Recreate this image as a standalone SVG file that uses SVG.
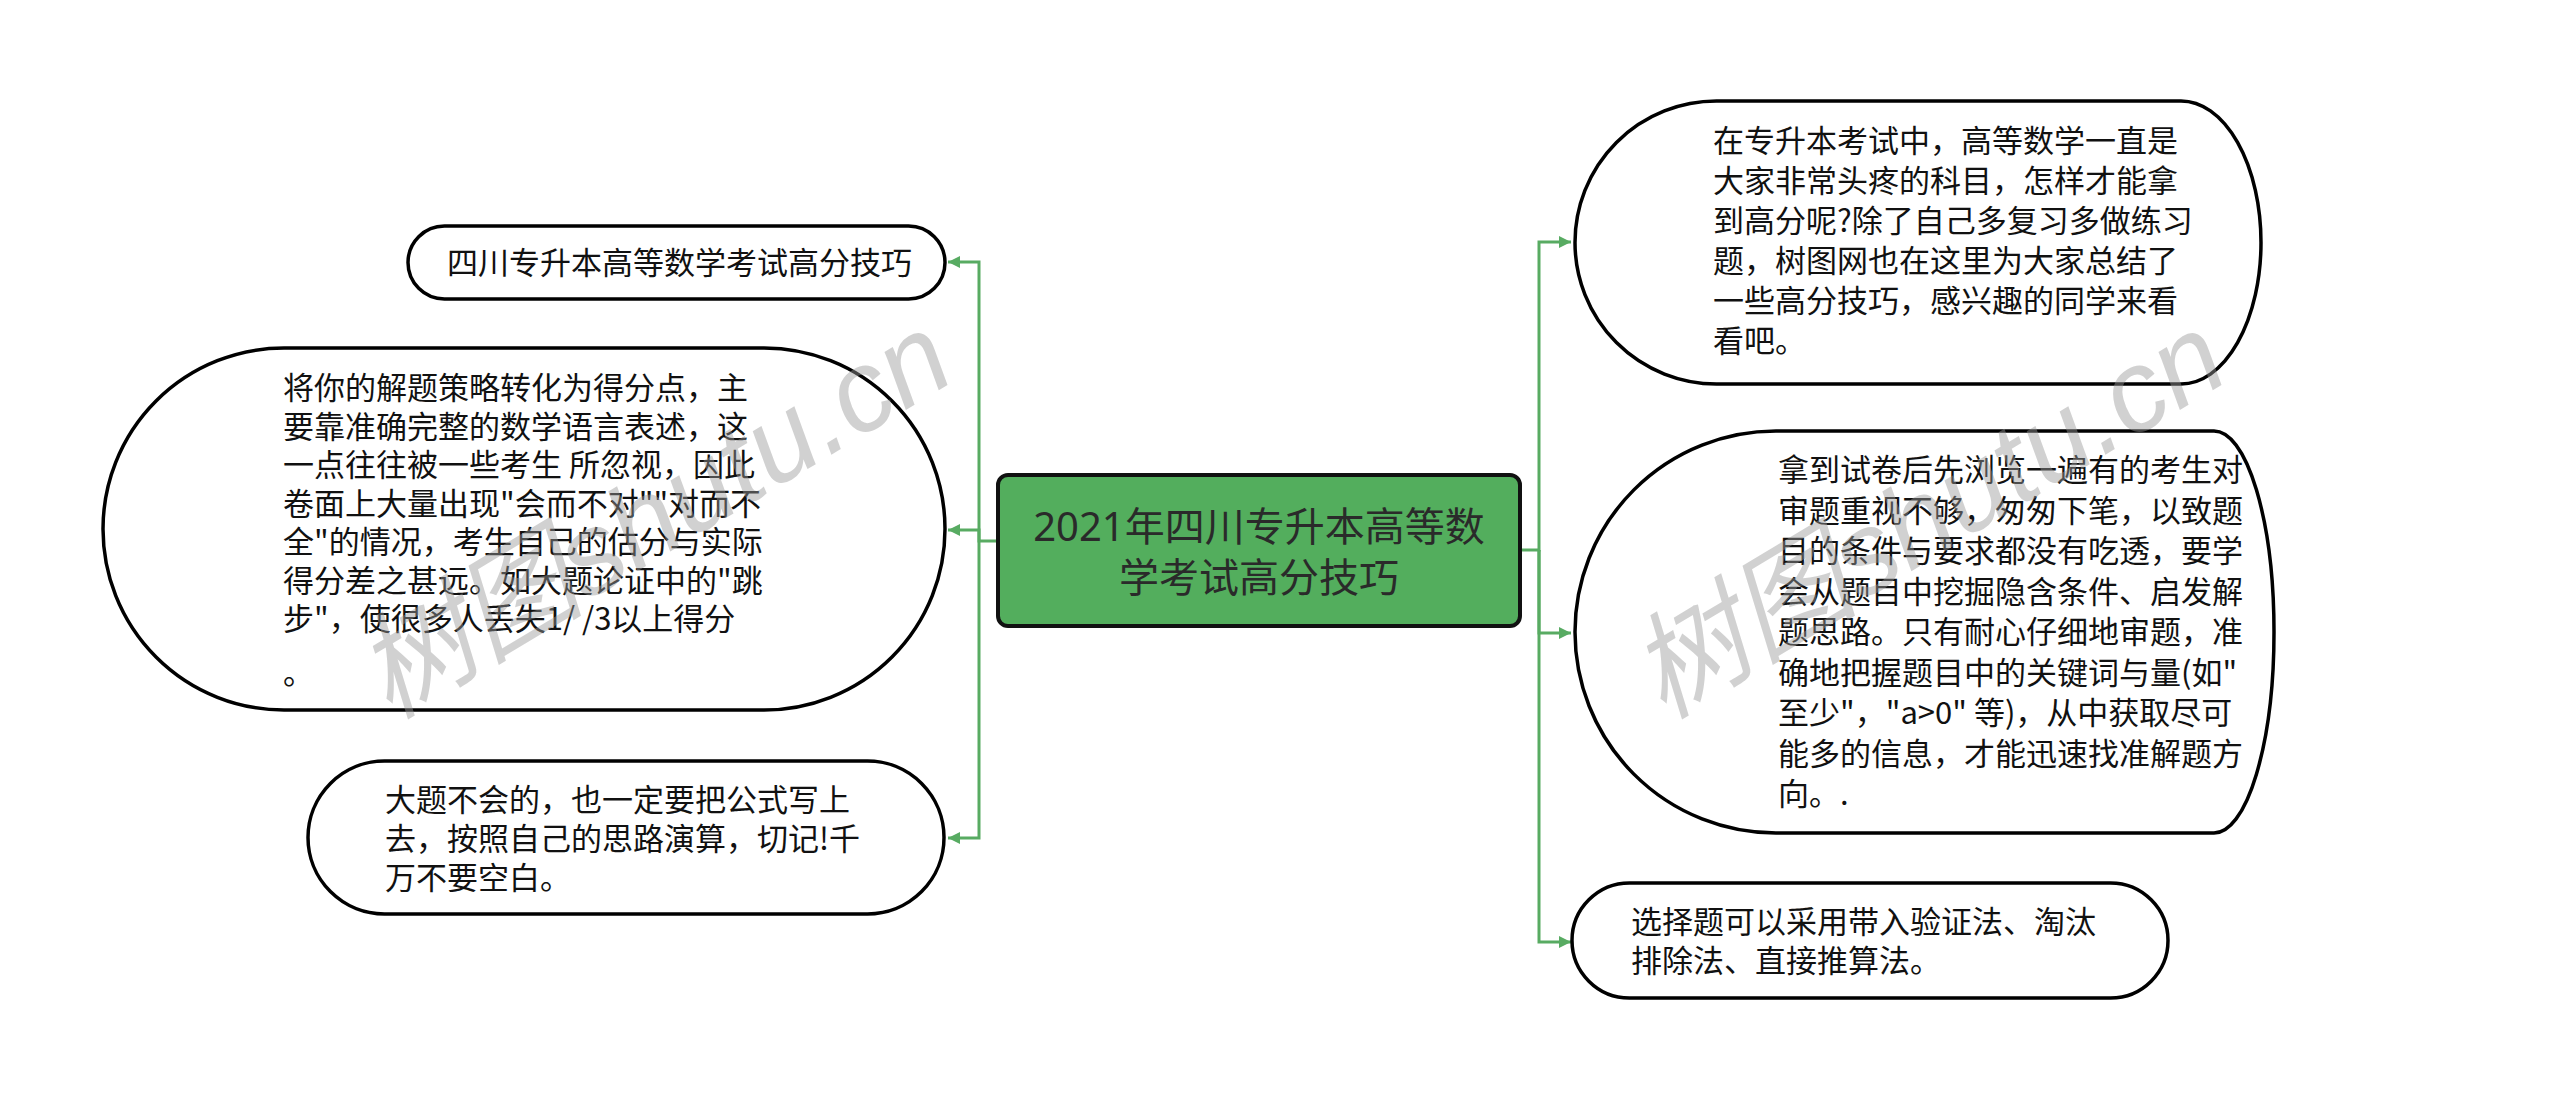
<svg xmlns="http://www.w3.org/2000/svg" width="2560" height="1101" viewBox="0 0 2560 1101">
<style>
.node{fill:#ffffff;stroke:#000000;stroke-width:3.5}
.root{fill:#53ae5d;stroke:#111111;stroke-width:4}
.t{font-family:"Noto Sans CJK SC","Noto Sans",sans-serif;font-size:31px;fill:#111111}
.rt{font-family:"Noto Sans","Noto Sans CJK SC",sans-serif;font-size:40px;fill:#2a2a2a;text-anchor:middle}
.edge{fill:none;stroke:#58ab62;stroke-width:3}
.wm{font-family:"Liberation Sans","Noto Sans CJK SC",sans-serif;font-style:italic;font-size:115px;fill:#999999;fill-opacity:0.45}
</style>
<defs>
<marker id="arr" markerUnits="userSpaceOnUse" markerWidth="14" markerHeight="14" refX="12" refY="6" orient="auto">
<path d="M0,0 L12,6 L0,12 z" fill="#58ab62"/>
</marker>
</defs>
<rect width="2560" height="1101" fill="#ffffff"/>
<g id="connectors">
<path class="edge" d="M998,541 H979 V262 H948" marker-end="url(#arr)"/>
<path class="edge" d="M979,541 V530 H948" marker-end="url(#arr)"/>
<path class="edge" d="M979,541 V838 H948" marker-end="url(#arr)"/>
<path class="edge" d="M1520,550 H1539 V242 H1571" marker-end="url(#arr)"/>
<path class="edge" d="M1539,550 V633 H1571" marker-end="url(#arr)"/>
<path class="edge" d="M1539,550 V942 H1571" marker-end="url(#arr)"/>
</g>
<g id="root">
<rect class="root" x="998" y="475" width="522" height="151" rx="10"/>
<text class="rt" x="1259" y="541">2021年四川专升本高等数</text>
<text class="rt" x="1259" y="592">学考试高分技巧</text>
</g>
<g id="left1">
<rect class="node" x="408" y="226" width="537" height="73" rx="36.5"/>
<text class="t" x="447" y="274">四川专升本高等数学考试高分技巧</text>
</g>
<g id="left2">
<rect class="node" x="103" y="348" width="842" height="362" rx="181"/>
<text class="t" x="283" y="399">将你的解题策略转化为得分点，主</text>
<text class="t" x="283" y="437.5">要靠准确完整的数学语言表述，这</text>
<text class="t" x="283" y="476">一点往往被一些考生 所忽视，因此</text>
<text class="t" x="283" y="514.5">卷面上大量出现"会而不对""对而不</text>
<text class="t" x="283" y="553">全"的情况，考生自己的估分与实际</text>
<text class="t" x="283" y="591.5">得分差之甚远。如大题论证中的"跳</text>
<text class="t" x="283" y="630">步"，使很多人丢失1/ /3以上得分</text>
<text class="t" x="283" y="684">。</text>
</g>
<g id="left3">
<rect class="node" x="308" y="761" width="636" height="153" rx="76.5"/>
<text class="t" x="385" y="811">大题不会的，也一定要把公式写上</text>
<text class="t" x="385" y="850">去，按照自己的思路演算，切记!千</text>
<text class="t" x="385" y="889">万不要空白。</text>
</g>
<g id="right1">
<path class="node" d="M1716.5,101 H2181 A80,141.5 0 0 1 2261,242.5 A80,141.5 0 0 1 2181,384 H1716.5 A141.5,141.5 0 0 1 1716.5,101 Z"/>
<text class="t" x="1713" y="152">在专升本考试中，高等数学一直是</text>
<text class="t" x="1713" y="192">大家非常头疼的科目，怎样才能拿</text>
<text class="t" x="1713" y="232">到高分呢?除了自己多复习多做练习</text>
<text class="t" x="1713" y="272">题，树图网也在这里为大家总结了</text>
<text class="t" x="1713" y="312">一些高分技巧，感兴趣的同学来看</text>
<text class="t" x="1713" y="352">看吧。</text>
</g>
<g id="right2">
<path class="node" d="M1776,431 H2214 A60,201 0 0 1 2274,632 A60,201 0 0 1 2214,833 H1776 A201,201 0 0 1 1776,431 Z"/>
<text class="t" x="1778" y="481">拿到试卷后先浏览一遍有的考生对</text>
<text class="t" x="1778" y="521.5">审题重视不够，匆匆下笔，以致题</text>
<text class="t" x="1778" y="562">目的条件与要求都没有吃透，要学</text>
<text class="t" x="1778" y="602.5">会从题目中挖掘隐含条件、启发解</text>
<text class="t" x="1778" y="643">题思路。只有耐心仔细地审题，准</text>
<text class="t" x="1778" y="683.5">确地把握题目中的关键词与量(如"</text>
<text class="t" x="1778" y="724">至少"，"a&gt;0" 等)，从中获取尽可</text>
<text class="t" x="1778" y="764.5">能多的信息，才能迅速找准解题方</text>
<text class="t" x="1778" y="805">向。.</text>
</g>
<g id="right3">
<rect class="node" x="1572" y="883" width="596" height="115" rx="57.5"/>
<text class="t" x="1631" y="933">选择题可以采用带入验证法、淘汰</text>
<text class="t" x="1631" y="972">排除法、直接推算法。</text>
</g>
<g id="watermarks">
<text class="wm" x="653" y="555" text-anchor="middle" transform="rotate(-31 653 514)">树图shutu.cn</text>
<text class="wm" x="1927" y="555" text-anchor="middle" transform="rotate(-31 1927 514)">树图shutu.cn</text>
</g>
</svg>
